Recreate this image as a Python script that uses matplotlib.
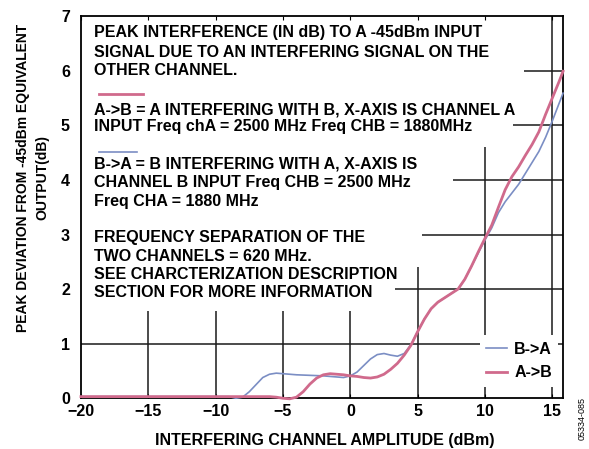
import matplotlib
matplotlib.use("Agg")
import matplotlib.pyplot as plt

plt.rcParams['font.family'] = ['Liberation Sans', 'DejaVu Sans']
plt.rcParams['font.weight'] = 'bold'

# ---- data ----
x_ba = [-20, -9, -8.5, -8, -7.5, -7, -6.5, -6, -5.5, -5, -4, -3, -2, -1, -0.5, 0, 0.5, 1,
        1.5, 2, 2.5, 3, 3.5, 4, 4.5, 5, 5.5, 6, 6.5, 7, 7.5, 8, 8.5, 9, 9.5, 10, 10.5,
        11, 11.5, 12, 12.5, 13, 13.5, 14, 14.5, 15, 15.5, 15.8]
y_ba = [0.03, 0.03, 0.0, 0.02, 0.12, 0.25, 0.38, 0.44, 0.46, 0.45, 0.43, 0.42, 0.41, 0.39,
        0.38, 0.41, 0.48, 0.60, 0.72, 0.80, 0.82, 0.79, 0.77, 0.82, 0.98, 1.22, 1.45, 1.64,
        1.76, 1.84, 1.92, 2.00, 2.18, 2.42, 2.66, 2.90, 3.12, 3.40, 3.60, 3.76, 3.92, 4.12,
        4.32, 4.52, 4.78, 5.08, 5.40, 5.59]

x_ab = [-20, -6, -5.5, -5, -4.5, -4, -3.5, -3, -2.5, -2, -1.5, -1, -0.5, 0, 0.5, 1, 1.5,
        2, 2.5, 3, 3.5, 4, 4.5, 5, 5.5, 6, 6.5, 7, 7.5, 8, 8.5, 9, 9.5, 10, 10.5, 11, 11.5,
        12, 12.5, 13, 13.5, 14, 14.5, 15, 15.5, 15.8]
y_ab = [0.03, 0.03, 0.02, 0.0, -0.01, 0.02, 0.12, 0.26, 0.37, 0.43, 0.45, 0.44, 0.43, 0.41,
        0.40, 0.38, 0.37, 0.39, 0.44, 0.53, 0.64, 0.79, 0.97, 1.22, 1.45, 1.64, 1.76, 1.84,
        1.92, 2.00, 2.18, 2.42, 2.68, 2.93, 3.17, 3.50, 3.82, 4.06, 4.24, 4.45, 4.65, 4.88,
        5.20, 5.50, 5.80, 5.99]

x_ticks = [-20, -15, -10, -5, 0, 5, 10, 15]
x_tick_labels = ['\u221220', '\u221215', '\u221210', '\u22125', '0', '5', '10', '15']
y_ticks = [0, 1, 2, 3, 4, 5, 6, 7]

blue = '#7b8ec4'
pink = '#d06a8c'

fig = plt.figure(figsize=(5.89, 4.49), dpi=100)
ax = fig.add_axes([0.1375, 0.113, 0.8185, 0.851])
ax.set_xlim(-20, 15.8)
ax.set_ylim(0, 7)

# partial grid lines
gc = '#1a1a1a'
glw = 1.1
ax.hlines(1, -20, 15.8, color=gc, lw=glw, zorder=1)
ax.hlines(2, 3.3, 15.8, color=gc, lw=glw, zorder=1)
ax.hlines(3, 5.3, 15.8, color=gc, lw=glw, zorder=1)
ax.hlines(4, 7.6, 15.8, color=gc, lw=glw, zorder=1)
ax.hlines(5, 12.1, 15.8, color=gc, lw=glw, zorder=1)
ax.hlines(6, 12.9, 15.8, color=gc, lw=glw, zorder=1)
for xv in [-15, -10, -5, 0]:
    ax.vlines(xv, 0, 1.6, color=gc, lw=glw, zorder=1)
ax.vlines(5, 0, 2.4, color=gc, lw=glw, zorder=1)
ax.vlines(10, 0, 4.6, color=gc, lw=glw, zorder=1)
ax.vlines(15, 0, 7, color=gc, lw=glw, zorder=1)

ax.plot(x_ba, y_ba, color=blue, lw=1.2, label='B->A', zorder=3, clip_on=False)
ax.plot(x_ab, y_ab, color=pink, lw=2.0, label='A->B', zorder=4, clip_on=False)

ax.set_xticks(x_ticks)
ax.set_xticklabels(x_tick_labels)
ax.set_yticks(y_ticks)
ax.tick_params(axis='both', direction='in', length=3, labelsize=11.5, top=True)
ax.tick_params(axis='x', pad=4)
ax.tick_params(axis='y', pad=8, length=0)
for lab in ax.get_xticklabels() + ax.get_yticklabels():
    lab.set_fontweight('bold')
for sp in ax.spines.values():
    sp.set_linewidth(1.3)

leg = ax.legend(loc='lower right', bbox_to_anchor=(0.99, 0.03), borderaxespad=0,
                frameon=True, fancybox=False, framealpha=1, edgecolor='none',
                facecolor='white', handlelength=1.3, handletextpad=0.45,
                labelspacing=0.55, borderpad=0.4,
                prop={'weight': 'bold', 'size': 11.5})
leg.set_zorder(5)

# annotation text
tfs = 11.5
lines = [
    ("PEAK INTERFERENCE (IN dB) TO A -45dBm INPUT", 6.70),
    ("SIGNAL DUE TO AN INTERFERING SIGNAL ON THE", 6.33),
    ("OTHER CHANNEL.", 6.00),
    ("A->B = A INTERFERING WITH B, X-AXIS IS CHANNEL A", 5.28),
    ("INPUT Freq chA = 2500 MHz Freq CHB = 1880MHz", 4.98),
    ("B->A = B INTERFERING WITH A, X-AXIS IS", 4.30),
    ("CHANNEL B INPUT Freq CHB = 2500 MHz", 3.95),
    ("Freq CHA = 1880 MHz", 3.60),
    ("FREQUENCY SEPARATION OF THE", 2.94),
    ("TWO CHANNELS = 620 MHz.", 2.59),
    ("SEE CHARCTERIZATION DESCRIPTION", 2.26),
    ("SECTION FOR MORE INFORMATION", 1.93),
]
for s, yv in lines:
    ax.text(-19.05, yv, s, fontsize=tfs, fontweight='bold', va='center', ha='left',
            zorder=6)
ax.plot([-18.66, -15.4], [5.58, 5.58], color=pink, lw=2.0, zorder=6)
ax.plot([-18.66, -15.84], [4.52, 4.52], color=blue, lw=1.2, zorder=6)

fig.text(0.056, 0.604, "PEAK DEVIATION FROM -45dBm EQUIVALENT\nOUTPUT(dB)",
         rotation=90, ha='center', va='center', multialignment='center',
         fontsize=10, fontweight='bold', linespacing=1.5)
fig.text(0.551, 0.02, "INTERFERING CHANNEL AMPLITUDE (dBm)", ha='center', va='center',
         fontsize=11.5, fontweight='bold')
fig.text(0.988, 0.069, "05334-085", rotation=90, ha='center', va='center',
         fontsize=6.5, fontweight='normal')

fig.savefig('out.png', dpi=100)
